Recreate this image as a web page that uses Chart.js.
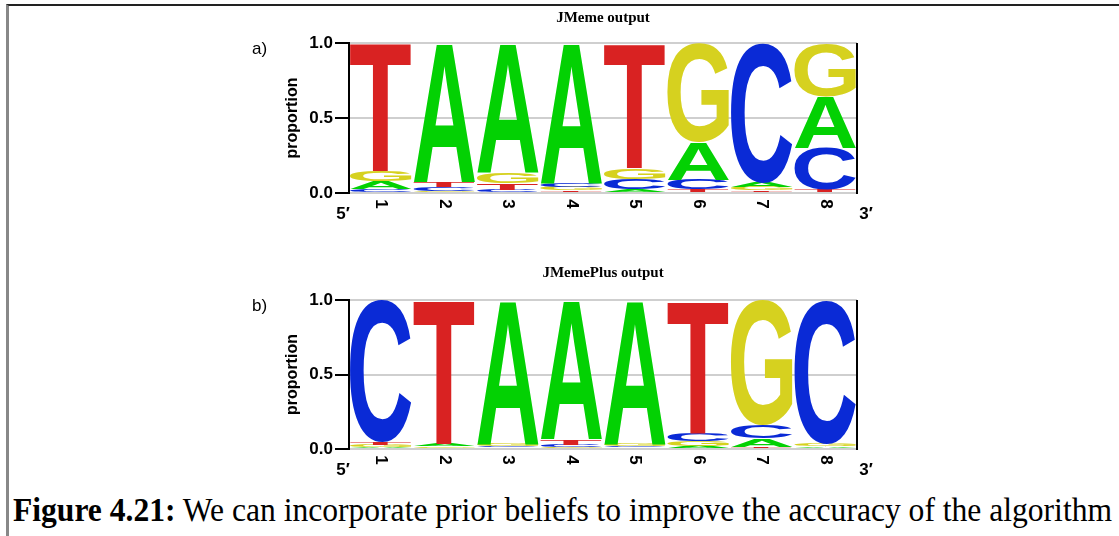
<!DOCTYPE html>
<html>
<head>
<meta charset="utf-8">
<script src="https://cdn.jsdelivr.net/npm/chart.js"></script>
<style>
  body { margin: 0; background: #fff; width: 1119px; height: 536px; overflow: hidden; position: relative; }
  #frame { position: absolute; left: 6px; top: 4px; width: 1130px; height: 560px; border-top: 2px solid #222; border-left: 3px solid #888; }
  canvas { position: absolute; }
  #chartA { left: 240px; top: 0; }
  #chartB { left: 240px; top: 255px; }
  #caption { position: absolute; left: 13px; top: 493px; font-family: "Liberation Serif", "Times New Roman", serif; font-size: 34px; line-height: 34px; white-space: nowrap; transform-origin: 0 0; color: #000; }
</style>
</head>
<body>
<div id="frame"></div>
<canvas id="chartA" width="660" height="235"></canvas>
<canvas id="chartB" width="660" height="230"></canvas>
<div id="caption"><b>Figure 4.21:</b> We can incorporate prior beliefs to improve the accuracy of the algorithm</div>
<script>
// positions along the motif
const positions = ["1", "2", "3", "4", "5", "6", "7", "8"];
const yTicks = [0, 0.5, 1];

// a) JMeme output, proportion of each base per position
const jmemeA = [0.055, 0.928, 0.865, 0.935, 0.025, 0.25, 0.03, 0.345];
const jmemeC = [0.025, 0.025, 0.023, 0.025, 0.068, 0.065, 0.93, 0.28];
const jmemeG = [0.065, 0.015, 0.067, 0.022, 0.072, 0.66, 0.022, 0.355];
const jmemeT = [0.855, 0.032, 0.045, 0.018, 0.835, 0.025, 0.018, 0.02];

// b) JMemePlus output
const plusA = [0.013, 0.014, 0.965, 0.935, 0.965, 0.02, 0.055, 0.012];
const plusC = [0.955, 0.009, 0.012, 0.016, 0.012, 0.055, 0.09, 0.965];
const plusG = [0.015, 0.012, 0.013, 0.014, 0.013, 0.035, 0.84, 0.013];
const plusT = [0.017, 0.965, 0.01, 0.035, 0.01, 0.89, 0.015, 0.01];

const letterColors = { A: "#03d103", C: "#0a2ad6", G: "#d6d11f", T: "#d92222" };
const LOGO_FONT = '"Liberation Sans", Arial, sans-serif';

// stack letters smallest at the bottom, largest on top
function buildDatasets(a, c, g, t) {
  let series = { A: a, C: c, G: g, T: t };
  let ranks = [0, 1, 2, 3].map(() => ({ data: [], letters: [], backgroundColor: "rgba(0,0,0,0)", borderWidth: 0 }));
  positions.forEach((p, i) => {
    let entries = Object.keys(series).map(b => [b, series[b][i]]);
    entries.sort((p1, p2) => p1[1] - p2[1]);
    entries.forEach((e, k) => {
      ranks[k].letters.push(e[0]);
      ranks[k].data.push(e[1]);
    });
  });
  return ranks;
}

function drawLetter(ctx, letter, x, y, w, h) {
  ctx.save();
  ctx.font = "bold 100px " + LOGO_FONT;
  ctx.textAlign = "left";
  ctx.textBaseline = "alphabetic";
  let m = ctx.measureText(letter);
  let gw = m.actualBoundingBoxLeft + m.actualBoundingBoxRight;
  let gh = m.actualBoundingBoxAscent + m.actualBoundingBoxDescent;
  ctx.translate(x, y);
  ctx.scale(w / gw, h / gh);
  ctx.fillStyle = letterColors[letter];
  ctx.fillText(letter, m.actualBoundingBoxLeft, m.actualBoundingBoxAscent);
  ctx.restore();
}

const logoPlugin = {
  id: "logo",
  afterDatasetsDraw(chart) {
    let ctx = chart.ctx;
    chart.data.datasets.forEach((ds, k) => {
      chart.getDatasetMeta(k).data.forEach((bar, i) => {
        let top = Math.min(bar.y, bar.base);
        let h = Math.abs(bar.base - bar.y);
        if (h < 0.4) return;
        drawLetter(ctx, ds.letters[i], bar.x - bar.width / 2, top, bar.width, h);
      });
    });
  },
  afterDraw(chart, args, opts) {
    let ctx = chart.ctx;
    let area = chart.chartArea;
    ctx.save();
    // right frame line
    ctx.strokeStyle = "#000";
    ctx.lineWidth = 2;
    ctx.beginPath();
    ctx.moveTo(area.right, area.top);
    ctx.lineTo(area.right, area.bottom + 1);
    ctx.stroke();

    ctx.fillStyle = "#000";
    // title
    ctx.font = 'bold 15px "Liberation Serif", "Times New Roman", serif';
    ctx.textAlign = "center";
    ctx.textBaseline = "middle";
    ctx.fillText(opts.title, (area.left + area.right) / 2, area.top - opts.titleGap);

    // panel letter
    ctx.font = "17px " + LOGO_FONT;
    ctx.textAlign = "left";
    ctx.fillText(opts.panel, 12, area.top + 6);

    // y axis title
    ctx.save();
    ctx.font = "bold 16px " + LOGO_FONT;
    ctx.textAlign = "center";
    ctx.translate(53, (area.top + area.bottom) / 2);
    ctx.rotate(-Math.PI / 2);
    ctx.fillText("proportion", 0, 0);
    ctx.restore();

    // rotated position numbers
    ctx.font = "bold 17px " + LOGO_FONT;
    positions.forEach((p, i) => {
      let x = chart.scales.x.getPixelForValue(i);
      ctx.save();
      ctx.translate(x, area.bottom + 11);
      ctx.rotate(Math.PI / 2);
      ctx.textAlign = "center";
      ctx.fillText(p, 0, 0);
      ctx.restore();
    });

    // 5' and 3' ends
    ctx.textAlign = "center";
    ctx.fillText("5\u2032", area.left - 6, area.bottom + 21);
    ctx.fillText("3\u2032", area.right + 9, area.bottom + 21);
    ctx.restore();
  }
};

function makeLogo(id, datasets, title, panel, padTop, axisHeight, titleGap) {
  return new Chart(document.getElementById(id), {
    type: "bar",
    data: { labels: positions, datasets: datasets },
    options: {
      responsive: false,
      animation: false,
      events: [],
      datasets: { bar: { barPercentage: 1, categoryPercentage: 0.97 } },
      layout: { padding: { top: padTop, right: 43, left: 0, bottom: 0 } },
      plugins: {
        legend: { display: false },
        tooltip: { enabled: false },
        logo: { title: title, panel: panel, titleGap: titleGap }
      },
      scales: {
        x: {
          stacked: true,
          grid: { display: false },
          border: { display: false },
          ticks: { display: false },
          afterFit: s => { s.height = axisHeight; }
        },
        y: {
          stacked: true,
          min: 0,
          max: 1,
          afterBuildTicks: s => { s.ticks = yTicks.map(v => ({ value: v })); },
          ticks: {
            callback: v => Number(v).toFixed(1),
            color: "#000",
            padding: 2,
            font: { family: LOGO_FONT, size: 17, weight: "bold" }
          },
          grid: { color: "#cfcfcf", tickColor: "#000", lineWidth: 2, tickLength: 14 },
          border: { color: "#000", width: 2 },
          afterFit: s => { s.width = 109; }
        }
      }
    },
    plugins: [logoPlugin]
  });
}

makeLogo("chartA", buildDatasets(jmemeA, jmemeC, jmemeG, jmemeT), "JMeme output", "a)", 43, 42, 25);
makeLogo("chartB", buildDatasets(plusA, plusC, plusG, plusT), "JMemePlus output", "b)", 45, 36, 27);

// caption is condensed in the reference, stretch it to the same width
let caption = document.getElementById("caption");
let capWidth = caption.getBoundingClientRect().width;
caption.style.transform = "scaleX(" + (1099 / capWidth) + ")";
</script>
</body>
</html>
